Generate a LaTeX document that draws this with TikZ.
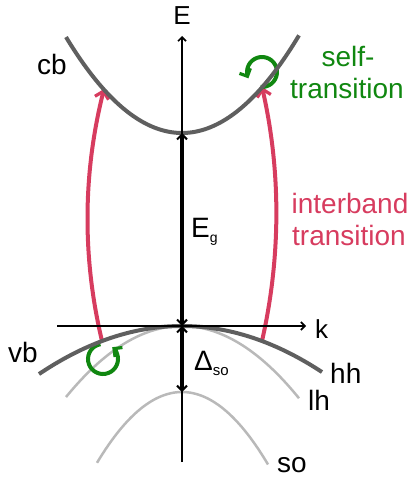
\documentclass[tikz,border=0pt]{standalone}
\usepackage{fontspec}
\setmainfont{Liberation Sans}
\usetikzlibrary{arrows.meta}
\definecolor{bandred}{RGB}{215,60,95}
\definecolor{selfgreen}{RGB}{16,135,16}
\definecolor{banddark}{RGB}{95,95,95}
\definecolor{bandlight}{RGB}{185,185,185}
\begin{document}
\begin{tikzpicture}[x=1pt,y=-1pt,
  lab/.style={font=\fontsize{28}{32}\selectfont, inner sep=0pt},
  axlab/.style={font=\fontsize{26}{30}\selectfont, inner sep=0pt},
  gtext/.style={font=\fontsize{28}{32}\selectfont, inner sep=0pt, text=selfgreen},
  rtext/.style={font=\fontsize{28}{32}\selectfont, inner sep=0pt, text=bandred},
  darkband/.style={draw=banddark, line width=4pt},
  lightband/.style={draw=bandlight, line width=2.5pt},
  axisline/.style={draw=black, line width=1.3pt, -{Straight Barb[length=4pt,width=8pt,line width=1.6pt]}},
  gaparrow/.style={draw=black, line width=3.2pt, {Straight Barb[length=5pt,width=10pt,line width=2pt]}-{Straight Barb[length=5pt,width=10pt,line width=2pt]}},
  redarrow/.style={draw=bandred, line width=4pt, -{Straight Barb[length=7pt,width=14pt,line width=3.2pt]}},
  greenarrow/.style={draw=selfgreen, line width=4pt, -{Straight Barb[length=6pt,width=12pt,line width=3.2pt]}}
]
\useasboundingbox (0,0) rectangle (411,478);

% named points
\coordinate (Ebot) at (182,462);
\coordinate (Etop) at (182,36);
\coordinate (kleft) at (57,326);
\coordinate (kright) at (306,326);
\coordinate (cbmin) at (182,133);
\coordinate (vbtop) at (182,326);
\coordinate (sotop) at (182,392);
\coordinate (lstart) at (102,341);
\coordinate (lend) at (104,89);
\coordinate (rstart) at (262,341);
\coordinate (rend) at (262,87);
\coordinate (topc) at (262,72);
\coordinate (botc) at (103,359);

% light bands
\draw[lightband] plot[domain=66:299, samples=80] (\x,{326+0.528*((\x-182)/10)^2});
\draw[lightband] plot[domain=97:268, samples=80] (\x,{392+0.98*((\x-182)/10)^2});

% interband transitions
\draw[redarrow] (lstart) .. controls (82,257) and (83,173) .. (lend);
\draw[redarrow] (rstart) .. controls (281,257) and (281,171) .. (rend);

% self transitions
\draw[greenarrow] (topc) ++(95:15) arc[start angle=95, end angle=-205, radius=15];
\draw[greenarrow] (botc) ++(-100:15) arc[start angle=-100, end angle=-412, radius=15];

% dark bands
\draw[darkband] plot[domain=66:299, samples=80] (\x,{133-0.713*((\x-182)/10)^2});
\draw[darkband] plot[domain=39:322, samples=80] (\x,{326+0.235*((\x-182)/10)^2});

% axes
\draw[axisline] (Ebot) -- (Etop);
\draw[axisline] (kleft) -- (kright);

% gaps
\draw[gaparrow] (cbmin) -- (vbtop);
\draw[gaparrow] (vbtop) -- (sotop);

% labels
\node[axlab, anchor=base] (Elab) at (182,25) {E};
\node[axlab, anchor=base west] (klab) at (315,338) {k};
\node[lab, anchor=base west] (cblab) at (37,75) {cb};
\node[lab, anchor=base west] (vblab) at (8,362) {vb};
\node[lab, anchor=base west] (hhlab) at (330,383) {hh};
\node[lab, anchor=base west] (lhlab) at (308,410) {lh};
\node[lab, anchor=base west] (solab) at (277,472) {so};
\node[lab, anchor=base west] (Eglab) at (191,237) {E\raisebox{-5pt}{\fontsize{14}{14}\selectfont g}};
\node[lab, anchor=base west] (Dlab) at (194,370) {Δ\raisebox{-5pt}{\fontsize{15}{15}\selectfont so}};
\node[gtext, anchor=base] (self1) at (348,67) {self-};
\node[gtext, anchor=base] (self2) at (347,99) {transition};
\node[rtext, anchor=base] (ib1) at (350,213) {interband};
\node[rtext, anchor=base] (ib2) at (349,245) {transition};
\end{tikzpicture}
\end{document}
